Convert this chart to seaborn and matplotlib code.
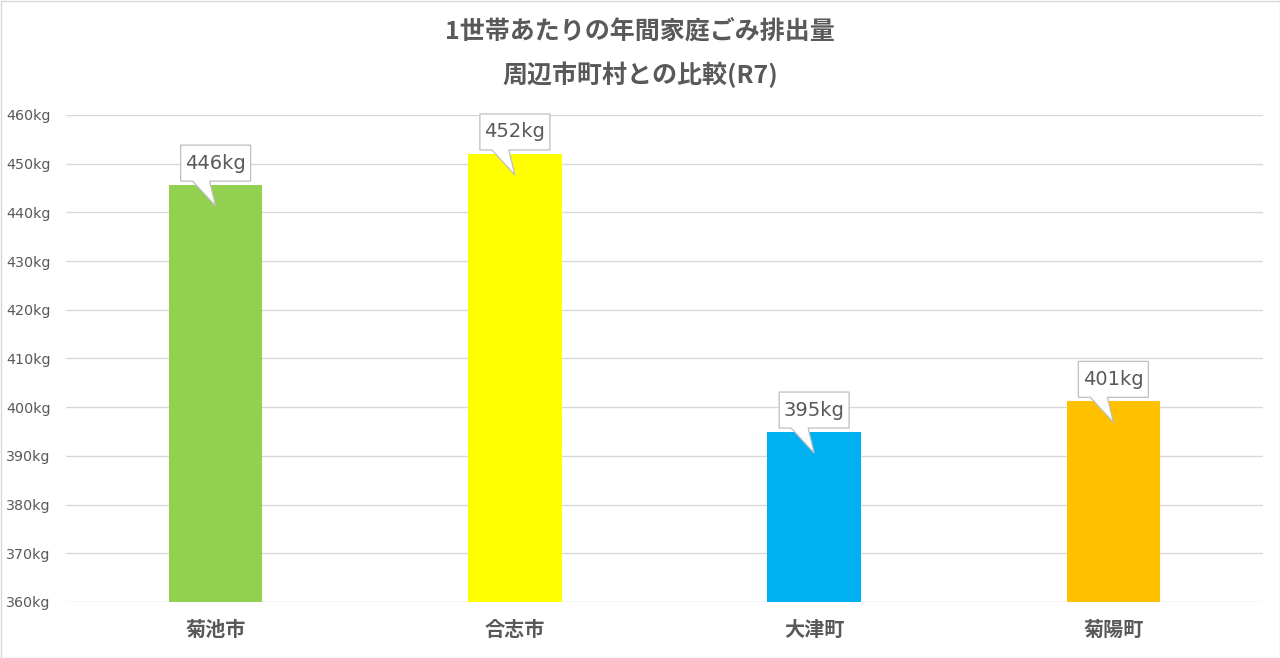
import matplotlib
matplotlib.use("Agg")
import matplotlib.pyplot as plt
import matplotlib.transforms as mtransforms
from matplotlib.patches import Polygon, Rectangle
import seaborn as sns
import pandas as pd

# ---- data ----
categories = ["菊池市", "合志市", "大津町", "菊陽町"]
values = [445.6, 452.0, 394.9, 401.2]
bar_colors = ["#92D050", "#FFFF00", "#00B0F0", "#FFC000"]
yticks = [360, 370, 380, 390, 400, 410, 420, 430, 440, 450, 460]
ytick_labels = [f"{v}kg" for v in yticks]
title_line1 = "1世帯あたりの年間家庭ごみ排出量"
title_line2 = "周辺市町村との比較(R7)"

sns.set_theme(style="white")
plt.rcParams["font.family"] = ["DejaVu Sans", "Noto Sans CJK JP"]

TXT = "#595959"
GRID = "#d9d9d9"

fig = plt.figure(figsize=(12.8, 6.58), dpi=100)
ax = fig.add_axes([66 / 1280, 56 / 658, (1263 - 66) / 1280, (602 - 115) / 658])

df = pd.DataFrame({"cat": categories, "val": values})
sns.barplot(data=df, x="cat", y="val", hue="cat", palette=bar_colors,
            saturation=1, width=0.312, legend=False, ax=ax, zorder=2,
            linewidth=0, edgecolor="none")

ax.set_ylim(360, 460)
ax.set_xlim(-0.5, len(categories) - 0.5)
ax.set_yticks(yticks)
ax.set_yticklabels(ytick_labels, fontsize=10.3, color=TXT)
ax.set_xlabel("")
ax.set_ylabel("")
ax.yaxis.grid(True, color=GRID, linewidth=1)
ax.set_axisbelow(True)
for s in ax.spines.values():
    s.set_visible(False)
ax.tick_params(axis="y", length=0, pad=11)
ax.tick_params(axis="x", length=0, pad=12)
for lbl in ax.get_xticklabels():
    lbl.set_fontfamily(["Noto Sans CJK JP"])
    lbl.set_fontweight("bold")
    lbl.set_fontsize(14.5)
    lbl.set_color(TXT)

# ---- callout labels ----
shape = [(-35, 4), (-23, 4), (0, -21), (-6, 4), (35, 4), (35, 40), (-35, 40)]
for i, v in enumerate(values):
    tr = mtransforms.ScaledTranslation(i, v, ax.transData)
    poly = Polygon(shape, closed=True, facecolor="white", edgecolor="#bfbfbf",
                   linewidth=0.9, transform=tr, clip_on=False, zorder=5)
    ax.add_artist(poly)
    ax.annotate(f"{round(v)}kg", xy=(i, v), xytext=(0, 22), textcoords="offset pixels",
                ha="center", va="center", fontsize=14, color=TXT, zorder=6,
                annotation_clip=False)

# ---- titles ----
fig.text(0.5, 1 - 32 / 658, title_line1, ha="center", va="center", fontsize=18,
         fontweight="bold", color=TXT, family=["Noto Sans CJK JP", "DejaVu Sans"])
fig.text(0.5, 1 - 75 / 658, title_line2, ha="center", va="center", fontsize=18,
         fontweight="bold", color=TXT, family=["Noto Sans CJK JP", "DejaVu Sans"])

# figure border
fig.patches.append(Rectangle((0.5 / 1280, 0.5 / 658), 1 - 1 / 1280, 1 - 1 / 658,
                             transform=fig.transFigure, fill=False,
                             edgecolor=GRID, linewidth=1))

fig.savefig("out.png", dpi=100)
